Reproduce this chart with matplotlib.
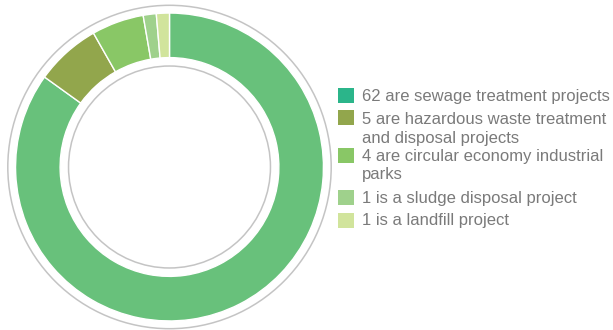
import matplotlib.pyplot as plt
from matplotlib.patches import Circle, Rectangle

counts = [62, 5, 4, 1, 1]
labels = [
    "62 are sewage treatment projects",
    "5 are hazardous waste treatment\nand disposal projects",
    "4 are circular economy industrial\nparks",
    "1 is a sludge disposal project",
    "1 is a landfill project",
]
wedge_colors = ["#68c17b", "#92a64c", "#89c766", "#9fd18c", "#d1e49c"]
legend_colors = ["#2bb58a", "#92a64c", "#89c766", "#9fd18c", "#d1e49c"]

W, H = 613, 330
fig = plt.figure(figsize=(W / 100, H / 100), dpi=100)

# donut, centre at (169.5, 167) px from top-left, 165 px = 1 unit
cx, cy, R = 169.5, 167, 165
ax = fig.add_axes([(cx - R) / W, (H - cy - R) / H, 2 * R / W, 2 * R / H])
ax.pie(counts, colors=wedge_colors, startangle=90, counterclock=False,
       radius=0.933, wedgeprops=dict(width=0.27, edgecolor="white", linewidth=1))
ax.add_patch(Circle((0, 0), 0.98, fill=False, edgecolor="#c4c4c4", linewidth=1.1))
ax.add_patch(Circle((0, 0), 0.612, fill=False, edgecolor="#c4c4c4", linewidth=1.1))
ax.set_xlim(-1, 1)
ax.set_ylim(-1, 1)
ax.set_aspect("equal")
ax.axis("off")

# legend drawn by hand so the box lines up with the first text line
tops = [88, 110, 148, 189.5, 212.5]
baselines = [101.5, 124.5, 161.5, 202.5, 225.5]
for lab, col, t, b in zip(labels, legend_colors, tops, baselines):
    fig.add_artist(Rectangle((337.5 / W, 1 - (t + 15) / H), 16 / W, 15 / H,
                             transform=fig.transFigure, facecolor=col, edgecolor="none"))
    for i, line in enumerate(lab.split("\n")):
        fig.text(362 / W, 1 - (b + 18 * i) / H, line, fontsize=12, color="#7a7a7a",
                 family="Liberation Sans", va="baseline", ha="left")

fig.savefig("out.png", dpi=100)
